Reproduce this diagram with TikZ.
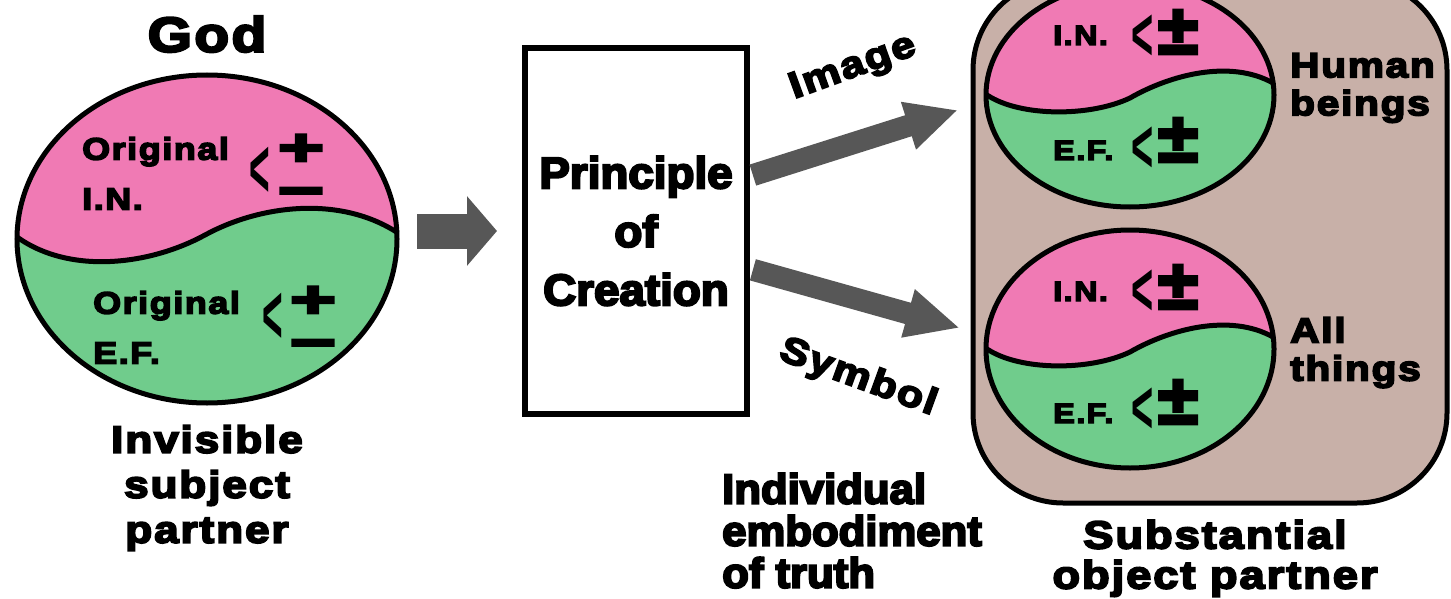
\documentclass[tikz,border=0pt]{standalone}
\usepackage{fontspec}
\usetikzlibrary{arrows.meta,positioning}

\newfontfamily\widefont{Liberation Sans}[FakeStretch=1.16,LetterSpace=5,BoldFeatures={FakeBold=5}]
\newfontfamily\boxfont{Liberation Sans}[FakeStretch=1.04,BoldFeatures={FakeBold=5}]
\newfontfamily\signfont{Liberation Sans}

\definecolor{inpink}{RGB}{240,122,180}
\definecolor{efgreen}{RGB}{112,204,140}
\definecolor{panelbrown}{RGB}{200,176,168}
\definecolor{arrowgray}{RGB}{87,87,87}

\tikzset{
  rim/.style={line width=5pt},
  heavy/.style 2 args={inner sep=0pt, font=\widefont\bfseries\fontsize{#1}{#2}\selectfont},
  sign/.style={inner sep=0pt, font=\boxfont\bfseries\fontsize{#1}{#1}\selectfont},
  brk/.style={inner sep=0pt, font=\signfont\bfseries\fontsize{#1}{#1}\selectfont},
  blockarrow/.style={arrowgray, line width=#1},
}

% wave lines between I.N. and E.F.
\def\bigwave{(17,237) .. controls (70,275) and (150,265) .. (205,235) .. controls (260,205) and (340,195) .. (398,233)}
\def\smallwave#1{(987,#1) .. controls (1020,#1+22) and (1090,#1+22) .. (1130,#1+3) .. controls (1170,#1-20) and (1230,#1-36) .. (1273,#1-12)}

\begin{document}
\begin{tikzpicture}[x=1pt, y=-1pt]

\useasboundingbox (0,0) rectangle (1451,599);

% God
\node[heavy={49}{49}, anchor=north] (god) at (207,16) {God};

\begin{scope}
  \clip (207,239) ellipse [x radius=190, y radius=164];
  \fill[efgreen] (0,60) rectangle (420,420);
  \fill[inpink] \bigwave -- (400,60) -- (15,60) -- cycle;
\end{scope}
\draw[rim] \bigwave;
\draw[rim] (207,239) ellipse [x radius=190, y radius=164];

\node[heavy={31}{50}, anchor=north west, align=left] (orgin) at (82,137) {Original\\I.N.};
\node[brk=84, xscale=0.42] (inbrk) at (260,172) {<};
\node[sign=52, xscale=1.45] (inplus) at (301,150) {+};
\node[sign=52, xscale=1.45, anchor=base] (inminus) at (301,208) {−};

\node[heavy={31}{50}, anchor=north west, align=left] (orgef) at (93,291) {Original\\E.F.};
\node[brk=84, xscale=0.42] (efbrk) at (273,318) {<};
\node[sign=52, xscale=1.45] (efplus) at (313,302) {+};
\node[sign=52, xscale=1.45, anchor=base] (efminus) at (313,360) {−};

\node[heavy={38}{45}, anchor=north, align=center] (subj) at (207,425) {Invisible\\subject\\partner};

% Principle of Creation
\node[draw, line width=6pt, minimum width=222pt, minimum height=366pt, align=center,
      font=\boxfont\bfseries\fontsize{44}{58.5}\selectfont] (principle) at (636,231) {Principle\\of\\Creation};

\coordinate (godright) at (417,231);
\draw[blockarrow=35pt, -{Triangle[length=30pt,width=68pt]}, shorten >=25pt] (godright) -- (principle.west);

\coordinate (humantip) at (958,110);
\coordinate (thingtip) at (960,328);
\draw[blockarrow=22pt, -{Triangle[length=52pt,width=46pt]}, shorten <=3pt] ([yshift=55pt]principle.east) -- (humantip);
\draw[blockarrow=22pt, -{Triangle[length=54pt,width=46pt]}, shorten <=3pt] ([yshift=-38pt]principle.east) -- (thingtip);

\node[heavy={37}{37}, rotate=20] (imglabel) at (853,68) {Image};
\node[heavy={37}{37}, rotate=-20] (symlabel) at (858,378) {Symbol};

\node[inner sep=0pt, anchor=north west, align=left, font=\boxfont\bfseries\fontsize{42}{42}\selectfont]
  (truth) at (722,473) {Individual\\embodiment\\of truth};

% object side
\draw[rim, fill=panelbrown, rounded corners=90pt] (973,-20) rectangle (1447,503);

\foreach \cy/\ry in {95/112, 349/119} {
  \begin{scope}
    \clip (1130,\cy) ellipse [x radius=144, y radius=\ry];
    \fill[efgreen] (980,\cy-130) rectangle (1280,\cy+130);
    \fill[inpink] \smallwave{\cy} -- (1280,\cy-130) -- (980,\cy-130) -- cycle;
  \end{scope}
  \draw[rim] \smallwave{\cy};
  \draw[rim] (1130,\cy) ellipse [x radius=144, y radius=\ry];
}

\node[heavy={28}{28}, anchor=base west] (hin) at (1053,45) {I.N.};
\node[brk=76, xscale=0.5] (hinbrk) at (1143,38) {<};
\node[sign=70] (hinpm) at (1178,32) {±};
\node[heavy={28}{28}, anchor=base west] (hef) at (1053,160) {E.F.};
\node[brk=76, xscale=0.5] (hefbrk) at (1143,150) {<};
\node[sign=70] (hefpm) at (1178,140) {±};

\node[heavy={28}{28}, anchor=base west] (ain) at (1053,301) {I.N.};
\node[brk=76, xscale=0.5] (ainbrk) at (1143,293) {<};
\node[sign=70] (ainpm) at (1178,287) {±};
\node[heavy={28}{28}, anchor=base west] (aef) at (1053,423) {E.F.};
\node[brk=76, xscale=0.5] (aefbrk) at (1143,411) {<};
\node[sign=70] (aefpm) at (1178,402) {±};

\node[heavy={35}{38}, anchor=north west, align=left] (human) at (1290,53) {Human\\beings};
\node[heavy={35}{38}, anchor=north west, align=left] (things) at (1290,317) {All\\things};

\node[heavy={39}{40}, anchor=north, align=center] (substance) at (1215,520) {Substantial\\object partner};

\end{tikzpicture}
\end{document}
